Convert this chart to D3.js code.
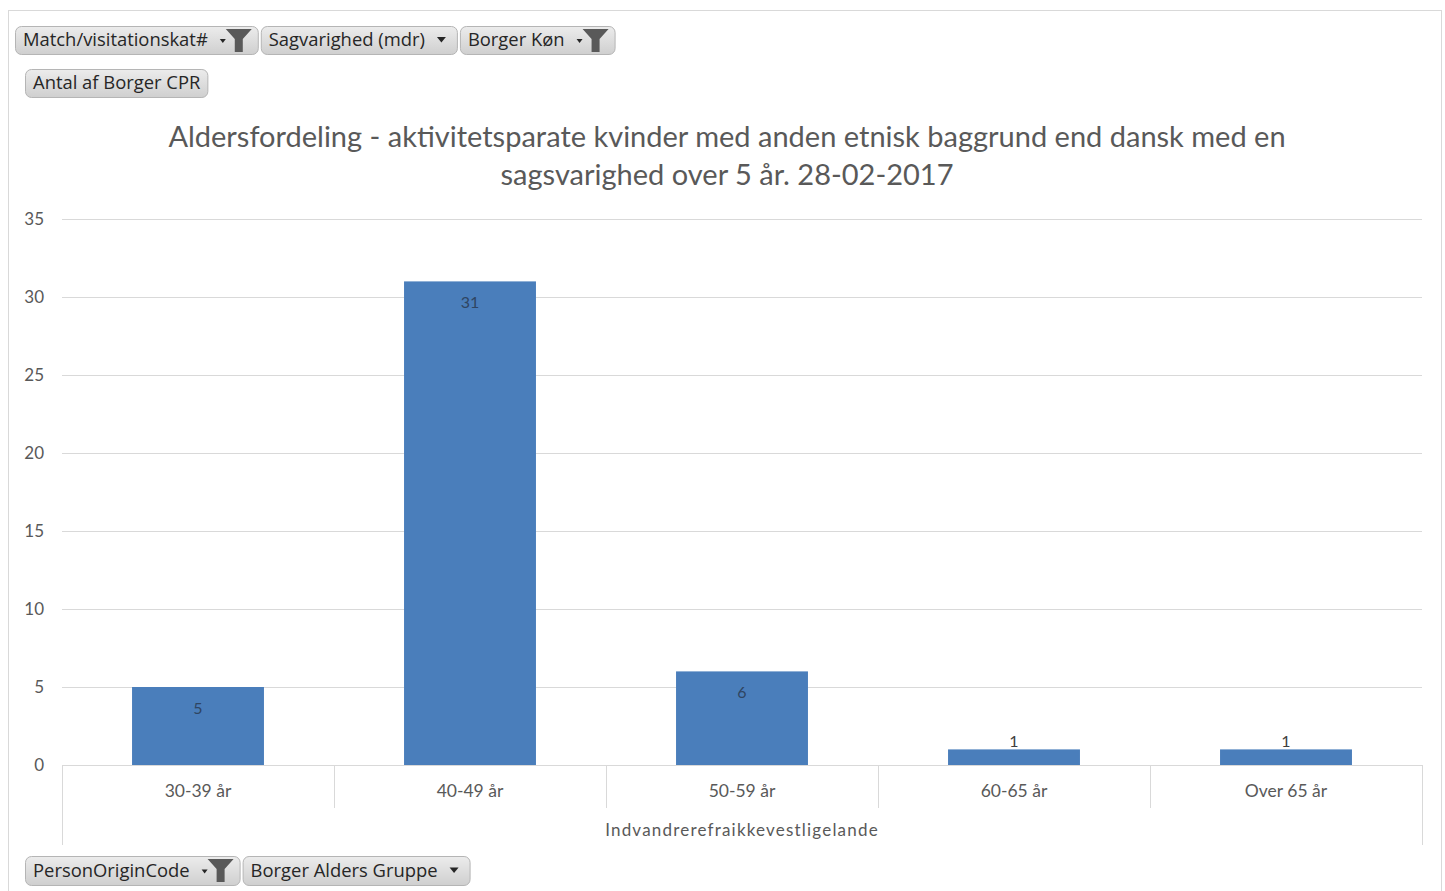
<!DOCTYPE html>
<html><head><meta charset="utf-8">
<script src="https://cdn.jsdelivr.net/npm/d3@7"></script>
<style>
html,body{margin:0;padding:0;background:#fff;}
svg{display:block;font-family:Lato,"Open Sans",sans-serif;}
</style></head>
<body>
<svg id="c" width="1445" height="891"></svg>
<script>
const categories = ["30-39 år","40-49 år","50-59 år","60-65 år","Over 65 år"];
const values = [5,31,6,1,1];
const yTicks = [0,5,10,15,20,25,30,35];
const groupLabel = "Indvandrerefraikkevestligelande";
const titleLines = ["Aldersfordeling - aktivitetsparate kvinder med anden etnisk baggrund end dansk med en","sagsvarighed over 5 år. 28-02-2017"];
const topButtons = [{t:"Match/visitationskat#",icon:"filter"},{t:"Sagvarighed (mdr)",icon:"arrow"},{t:"Borger Køn",icon:"filter"}];
const valueButtons = [{t:"Antal af Borger CPR",icon:null}];
const axisButtons = [{t:"PersonOriginCode",icon:"filter"},{t:"Borger Alders Gruppe",icon:"arrow"}];

const svg = d3.select("#c");
const defs = svg.append("defs");
const g1 = defs.append("linearGradient").attr("id","btn").attr("x1",0).attr("y1",0).attr("x2",0).attr("y2",1);
g1.append("stop").attr("offset","0%").attr("stop-color","#ececec");
g1.append("stop").attr("offset","100%").attr("stop-color","#cfcfcf");

// outer border
svg.append("rect").attr("x",8.5).attr("y",10.5).attr("width",1433).attr("height",900)
  .attr("fill","none").attr("stroke","#d9d9d9");

const M = {left:62,right:1422,top:219,bottom:765};
const x = d3.scaleBand().domain(categories).range([M.left,M.right]).paddingInner(0).paddingOuter(0);
const y = d3.scaleLinear().domain([0,35]).range([M.bottom,M.top]);

// gridlines
svg.append("g").selectAll("line").data(yTicks.filter(d=>d>0)).join("line")
  .attr("x1",M.left).attr("x2",M.right).attr("y1",d=>y(d)+0.5).attr("y2",d=>y(d)+0.5)
  .attr("stroke","#d9d9d9").attr("stroke-width",1);

// y labels
svg.append("g").selectAll("text").data(yTicks).join("text")
  .attr("x",44).attr("y",d=>y(d)).attr("dy","0.35em").attr("text-anchor","end")
  .attr("fill","#595959").attr("font-size",17).text(d=>d);

// bars
const bw = x.bandwidth()*0.485;
svg.append("g").selectAll("rect").data(values).join("rect")
  .attr("x",(d,i)=>x(categories[i])+x.bandwidth()/2-bw/2)
  .attr("y",d=>y(d)).attr("width",bw).attr("height",d=>y(0)-y(d))
  .attr("fill","#4a7ebb");

// data labels
svg.append("g").selectAll("text").data(values).join("text")
  .attr("x",(d,i)=>x(categories[i])+x.bandwidth()/2)
  .attr("y",d=> (y(0)-y(d))>30 ? y(d)+21 : y(d)-8)
  .attr("dy","0.35em")
  .attr("text-anchor","middle").attr("font-size",16)
  .attr("fill",d=> (y(0)-y(d))>30 ? "#2f4562" : "#404040").text(d=>d);

// x axis line
svg.append("line").attr("x1",M.left).attr("x2",M.right).attr("y1",M.bottom+0.5).attr("y2",M.bottom+0.5).attr("stroke","#d9d9d9");
// category separators
const seps = categories.map(c=>x(c)).concat([M.right]);
svg.append("g").selectAll("line").data(seps).join("line")
  .attr("x1",d=>d+0.5).attr("x2",d=>d+0.5).attr("y1",M.bottom)
  .attr("y2",(d,i)=> (i===0||i===seps.length-1)? 845 : 808)
  .attr("stroke","#d9d9d9");
// category labels
svg.append("g").selectAll("text").data(categories).join("text")
  .attr("x",d=>x(d)+x.bandwidth()/2).attr("y",791).attr("dy","0.35em")
  .attr("text-anchor","middle").attr("font-size",17.5).attr("fill","#595959").text(d=>d);
svg.append("text").attr("x",(M.left+M.right)/2).attr("y",830).attr("dy","0.35em")
  .attr("text-anchor","middle").attr("font-size",17).attr("fill","#595959")
  .attr("letter-spacing","1.2").text(groupLabel);

// title
svg.append("g").selectAll("text").data(titleLines).join("text")
  .attr("x",727).attr("y",(d,i)=>137+i*38).attr("dy","0.35em").attr("text-anchor","middle")
  .attr("font-size",29).attr("fill","#595959").text(d=>d);

// buttons
function drawButtons(list, x0, yTop, h){
  let cx = x0;
  list.forEach(b=>{
    const g = svg.append("g");
    const t = g.append("text").attr("x",cx+8).attr("y",yTop+h/2).attr("dy","0.35em")
      .attr("font-size",18.4).attr("fill","#262626").attr("font-family","'Open Sans',sans-serif").text(b.t);
    const tw = t.node().getComputedTextLength();
    const iconW = b.icon==="filter" ? 50 : (b.icon==="arrow" ? 32 : 7);
    const w = 8 + tw + iconW;
    g.insert("rect","text").attr("x",cx+0.5).attr("y",yTop+0.5).attr("width",w).attr("height",h)
      .attr("rx",6).attr("fill","url(#btn)").attr("stroke","#b5b5b5");
    const ix = cx + 8 + tw;
    if(b.icon==="arrow"){
      g.append("path").attr("d",`M${ix+12},${yTop+h/2-3} l9,0 l-4.5,5.5 z`).attr("fill","#262626");
    } else if(b.icon==="filter"){
      g.append("path").attr("d",`M${ix+12},${yTop+h/2-1} l6,0 l-3,4 z`).attr("fill","#262626");
      g.append("path").attr("d",`M${ix+18},${yTop+3} l26,0 l-9,10 l0,13 l-8,0 l0,-13 z`).attr("fill","#595959");
    }
    cx += w + 3;
  });
}
drawButtons(topButtons, 15, 26, 28);
drawButtons(valueButtons, 25, 69, 28);
drawButtons(axisButtons, 25, 856, 29);
</script>
</body></html>
